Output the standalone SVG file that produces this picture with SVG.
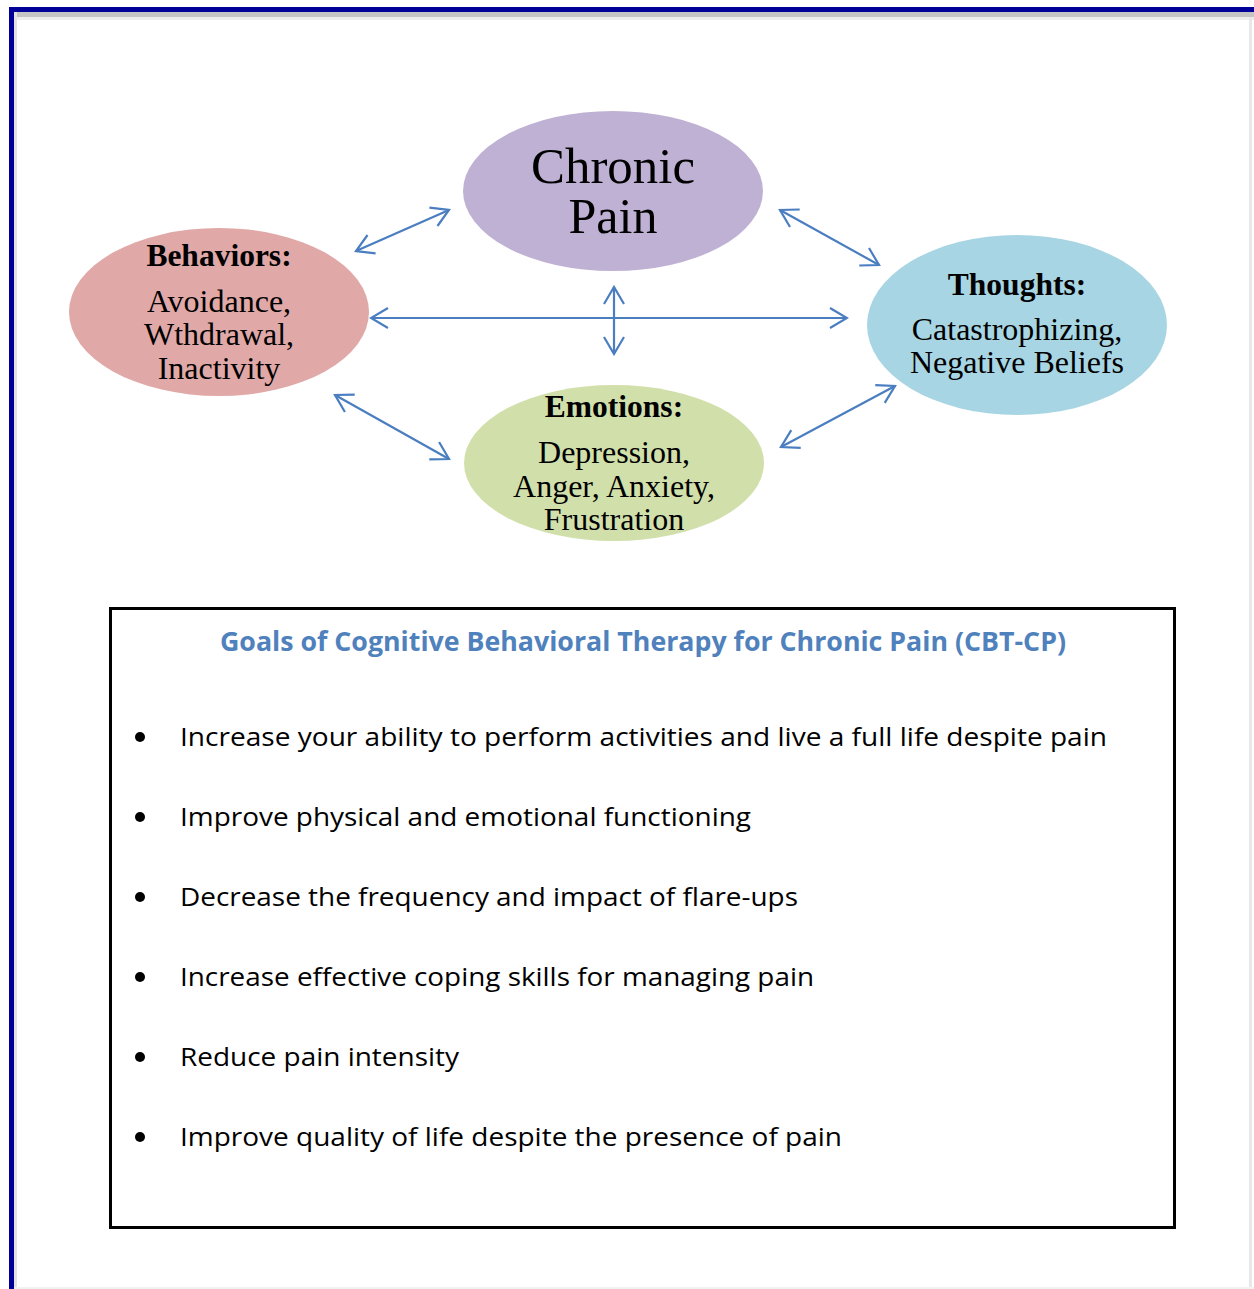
<svg xmlns="http://www.w3.org/2000/svg" width="1254" height="1289" viewBox="0 0 1254 1289">
  <style>
    .serif { font-family: "Liberation Serif", "Times New Roman", serif; font-size: 32px; fill: #000; text-anchor: middle; }
    .head { font-weight: bold; font-size: 31.5px; }
    .big { font-size: 50px; }
    .link { stroke: #4A7EC0; stroke-width: 2.2; fill: none; marker-start: url(#tip); marker-end: url(#tip); }
    .goal { font-family: "Open Sans", "Noto Sans", "Liberation Sans", sans-serif; font-size: 26px; fill: #000; }
    .title { font-family: "Open Sans", "Noto Sans", "Liberation Sans", sans-serif; font-size: 26px; font-weight: bold; fill: #4F81BD; text-anchor: middle; }
  </style>
  <defs>
    <marker id="tip" viewBox="-20 -12 22 24" markerWidth="22" markerHeight="24" refX="0" refY="0" orient="auto-start-reverse" markerUnits="userSpaceOnUse">
      <path d="M-17,-10 L0,0 L-17,10" fill="none" stroke="#4A7EC0" stroke-width="2.2"/>
    </marker>
  </defs>

  <rect width="1254" height="1289" fill="#fff"/>

  <!-- page frame with soft shadow -->
  <g id="frame">
    <rect x="14" y="12" width="1240" height="5" fill="#C4C4C4"/>
    <rect x="14" y="17" width="1240" height="3" fill="#EDEDED"/>
    <rect x="14" y="12" width="3" height="1277" fill="#E2E2E2"/>
    <rect x="1249" y="17" width="3" height="1272" fill="#E8E8E8"/>
    <rect x="14" y="1287" width="1240" height="2" fill="#F2F2F2"/>
    <rect x="9" y="7" width="1245" height="5" fill="#000099"/>
    <rect x="9" y="7" width="5" height="1282" fill="#000099"/>
  </g>

  <!-- connectors -->
  <g id="connectors">
    <line class="link" x1="356" y1="251" x2="449" y2="210"/>
    <line class="link" x1="780" y1="210" x2="879" y2="265"/>
    <line class="link" x1="371" y1="318" x2="847" y2="318"/>
    <line class="link" x1="614" y1="287" x2="614" y2="354"/>
    <line class="link" x1="335" y1="395" x2="449" y2="459"/>
    <line class="link" x1="781" y1="447" x2="895" y2="386"/>
  </g>

  <g id="chronic-pain">
    <ellipse cx="613" cy="191" rx="150" ry="80" fill="#BFB1D3"/>
    <text class="serif big" x="613" y="183" textLength="164" lengthAdjust="spacingAndGlyphs">Chronic</text>
    <text class="serif big" x="613" y="233" textLength="89" lengthAdjust="spacingAndGlyphs">Pain</text>
  </g>

  <g id="behaviors">
    <ellipse cx="219" cy="312" rx="150" ry="84" fill="#E1A8A8"/>
    <text class="serif head" x="219" y="266">Behaviors:</text>
    <text class="serif" x="219" y="312">Avoidance,</text>
    <text class="serif" x="219" y="345">Wthdrawal,</text>
    <text class="serif" x="219" y="379">Inactivity</text>
  </g>

  <g id="thoughts">
    <ellipse cx="1017" cy="325" rx="150" ry="90" fill="#A7D5E3"/>
    <text class="serif head" x="1017" y="295">Thoughts:</text>
    <text class="serif" x="1017" y="340">Catastrophizing,</text>
    <text class="serif" x="1017" y="373">Negative Beliefs</text>
  </g>

  <g id="emotions">
    <ellipse cx="614" cy="463" rx="150" ry="78" fill="#D1DFAB"/>
    <text class="serif head" x="614" y="417">Emotions:</text>
    <text class="serif" x="614" y="463">Depression,</text>
    <text class="serif" x="614" y="497">Anger, Anxiety,</text>
    <text class="serif" x="614" y="530">Frustration</text>
  </g>

  <!-- goals box -->
  <g id="goals">
    <rect x="110.5" y="608.5" width="1064" height="619" fill="#fff" stroke="#000" stroke-width="3"/>
    <text class="title" x="643" y="651" textLength="846" lengthAdjust="spacingAndGlyphs">Goals of Cognitive Behavioral Therapy for Chronic Pain (CBT-CP)</text>
    <g fill="#000">
      <circle cx="140" cy="737" r="5"/>
      <circle cx="140" cy="817" r="5"/>
      <circle cx="140" cy="897" r="5"/>
      <circle cx="140" cy="977" r="5"/>
      <circle cx="140" cy="1057" r="5"/>
      <circle cx="140" cy="1137" r="5"/>
    </g>
    <text class="goal" x="180" y="746" textLength="927" lengthAdjust="spacingAndGlyphs">Increase your ability to perform activities and live a full life despite pain</text>
    <text class="goal" x="180" y="826" textLength="571" lengthAdjust="spacingAndGlyphs">Improve physical and emotional functioning</text>
    <text class="goal" x="180" y="906" textLength="618" lengthAdjust="spacingAndGlyphs">Decrease the frequency and impact of flare-ups</text>
    <text class="goal" x="180" y="986" textLength="634" lengthAdjust="spacingAndGlyphs">Increase effective coping skills for managing pain</text>
    <text class="goal" x="180" y="1066" textLength="279" lengthAdjust="spacingAndGlyphs">Reduce pain intensity</text>
    <text class="goal" x="180" y="1146" textLength="662" lengthAdjust="spacingAndGlyphs">Improve quality of life despite the presence of pain</text>
  </g>
</svg>
